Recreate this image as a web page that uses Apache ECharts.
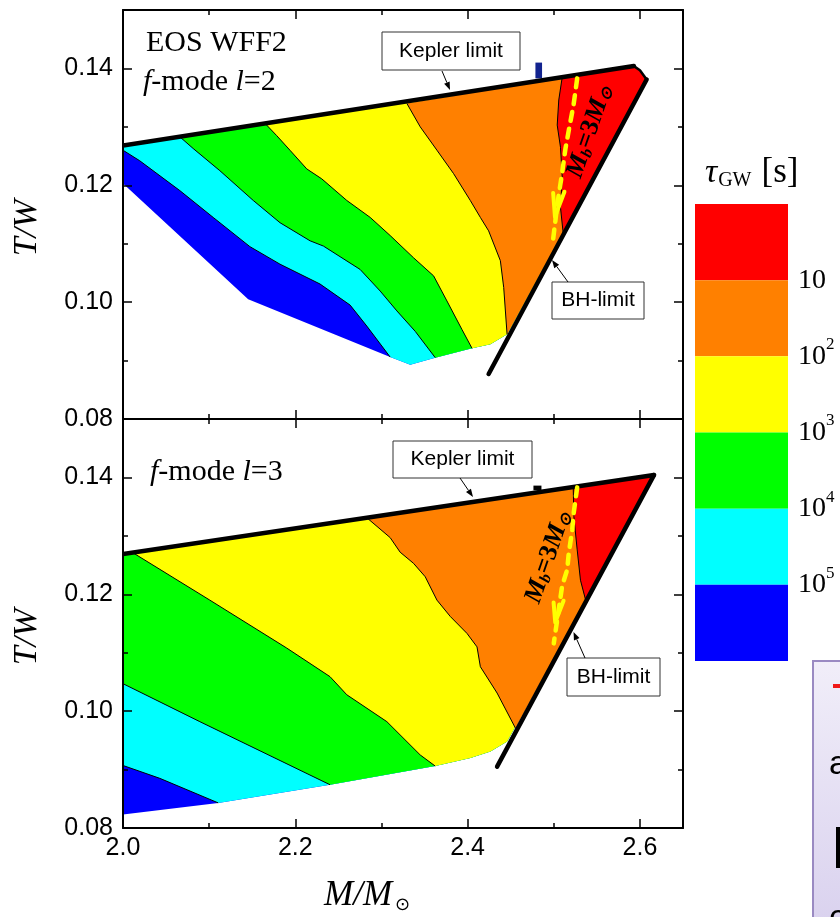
<!DOCTYPE html>
<html>
<head>
<meta charset="utf-8">
<script src="https://cdn.jsdelivr.net/npm/echarts@6/dist/echarts.min.js"></script>
<style>
  html, body { margin: 0; padding: 0; background: #fff; }
  #chart { width: 840px; height: 917px; }
</style>
</head>
<body>
<div id="chart"></div>
<script>
// tau_GW levels, shortest (red) to longest (blue)
const levelColors = ['#ff0000', '#ff8000', '#ffff00', '#00ff00', '#00ffff', '#0000ff'];
const levelExponents = [1, 2, 3, 4, 5];

const xRange = [2.0, 2.65];
const xStep = 0.2;
const yRange = [0.08, 0.15];
const yStep = 0.02;

// ---- f-mode l=2 (upper panel) ----
const keplerL2 = [[2.000, 0.1268], [2.593, 0.1404]];
const cornerL2 = [[2.600, 0.1397]];
const bhL2 = [[2.4244, 0.0877], [2.6078, 0.1381]];
const edgeL2 = [[2.000, 0.1203], [2.1453, 0.1005], [2.3101, 0.0906], [2.3334, 0.0893], [2.3624, 0.0905],
  [2.4051, 0.0921], [2.4264, 0.0928], [2.4458, 0.0945]];
// contour lines 1e5, 1e4, 1e3, 1e2, 10
const contoursL2 = [
  [[2.000, 0.1260], [2.0194, 0.1242], [2.0659, 0.1191], [2.1047, 0.1145], [2.1473, 0.1095], [2.1822, 0.1065],
    [2.2287, 0.1031], [2.2636, 0.0995], [2.2830, 0.0959], [2.3101, 0.0906]],
  [[2.0659, 0.1283], [2.0814, 0.1263], [2.1124, 0.1225], [2.1512, 0.1174], [2.1822, 0.1136], [2.2171, 0.1105],
    [2.2326, 0.1096], [2.2752, 0.1056], [2.2985, 0.1019], [2.3179, 0.0985], [2.3392, 0.0950], [2.3624, 0.0905]],
  [[2.1648, 0.1306], [2.1784, 0.1285], [2.1938, 0.1260], [2.2133, 0.1228], [2.2307, 0.1211], [2.2598, 0.1174],
    [2.2869, 0.1145], [2.3101, 0.1114], [2.3372, 0.1076], [2.3605, 0.1045], [2.3760, 0.1002], [2.3935, 0.0953],
    [2.4051, 0.0921]],
  [[2.3295, 0.1340], [2.3450, 0.1300], [2.3644, 0.1260], [2.3837, 0.1220], [2.4031, 0.1174], [2.4148, 0.1145],
    [2.4244, 0.1122], [2.4380, 0.1071], [2.4419, 0.1025], [2.4458, 0.0945]],
  [[2.5098, 0.1385], [2.5058, 0.1346], [2.5040, 0.1303], [2.5078, 0.1265], [2.5098, 0.1214], [2.5078, 0.1162],
    [2.5110, 0.1117]]
];
const mbDashL2 = [[2.5272, 0.1383], [2.5229, 0.1337], [2.5183, 0.1301], [2.5136, 0.1263], [2.5098, 0.1222],
  [2.5043, 0.1169], [2.4993, 0.1108]];
const mbArrowL2 = [[2.4993, 0.1187], [2.5014, 0.1146], [2.5124, 0.1189]];
const mbLabelL2 = [2.5415, 0.1291];
const strayL2 = [[2.4787, 0.1383], [2.4864, 0.1410]];

// ---- f-mode l=3 (lower panel) ----
const keplerL3 = [[2.000, 0.1269], [2.6163, 0.1404]];
const cornerL3 = [];
const bhL3 = [[2.4342, 0.0905], [2.6163, 0.1404]];
const edgeL3 = [[2.000, 0.0823], [2.1105, 0.0843], [2.2403, 0.0874], [2.3624, 0.0906], [2.4031, 0.0920],
  [2.4264, 0.0931], [2.4458, 0.0948]];
const contoursL3 = [
  [[2.000, 0.0907], [2.0427, 0.0885], [2.1105, 0.0843]],
  [[2.000, 0.1047], [2.0892, 0.0982], [2.2403, 0.0874]],
  [[2.0116, 0.1271], [2.1008, 0.1190], [2.1900, 0.1108], [2.2403, 0.1059], [2.2598, 0.1028], [2.3063, 0.0982],
    [2.3450, 0.0925], [2.3624, 0.0906]],
  [[2.2830, 0.1331], [2.3101, 0.1297], [2.3217, 0.1272], [2.3372, 0.1253], [2.3508, 0.1230], [2.3644, 0.1190],
    [2.3799, 0.1162], [2.3993, 0.1133], [2.4109, 0.1110], [2.4148, 0.1076], [2.4342, 0.1031], [2.4555, 0.0971]],
  [[2.5226, 0.1382], [2.5233, 0.1333], [2.5272, 0.1276], [2.5310, 0.1224], [2.5370, 0.1190]]
];
const mbDashL3 = [[2.5272, 0.1383], [2.5233, 0.1341], [2.5214, 0.1310], [2.5174, 0.1270], [2.5156, 0.1242],
  [2.5098, 0.1215], [2.5000, 0.1116]];
const mbArrowL3 = [[2.4998, 0.1186], [2.5017, 0.1152], [2.5114, 0.1189]];
const mbLabelL3 = [2.4934, 0.1263];
const strayL3 = [[2.4764, 0.1378], [2.4857, 0.1386]];

// painter's regions: whole domain, then the part with tau below each contour level
function buildBands(kep, corner, bh, edge, contours) {
  const out = [[kep[0], kep[1], ...corner, bh[1], ...edge.slice().reverse()]];
  contours.forEach(c => {
    const last = c[c.length - 1];
    const k = edge.findIndex(p => p[0] === last[0] && p[1] === last[1]);
    const tail = k >= 0 ? edge.slice(k + 1) : [];
    const poly = [...c, ...tail, bh[1], ...corner.slice().reverse(), kep[1]];
    if (c[0][0] <= xRange[0]) poly.push(kep[0]);
    out.push(poly);
  });
  return out;
}

function shapeSeries(gi, shapes, z, build) {
  return {
    type: 'custom', xAxisIndex: gi * 4, yAxisIndex: gi * 4, z: z, silent: true, clip: true,
    data: shapes.map(s => s[0]),
    renderItem: (params, api) => build(shapes[params.dataIndex].map(p => api.coord(p)), params.dataIndex)
  };
}

function panelSeries(gi, kep, corner, bh, edge, contours, dash, arrow, label, stray, strayColor) {
  const bands = buildBands(kep, corner, bh, edge, contours);
  const limits = [kep, bh, [kep[1], ...corner, bh[1]]];
  const limitWidths = [4.5, 4.5, 2.5];
  return [
    shapeSeries(gi, bands, 2, (pts, i) => ({
      type: 'polygon', shape: { points: pts }, style: { fill: levelColors[5 - i] }
    })),
    shapeSeries(gi, contours, 3, pts => ({
      type: 'polyline', shape: { points: pts }, style: { stroke: '#000', lineWidth: 1, fill: null }
    })),
    shapeSeries(gi, [stray], 3, pts => ({
      type: 'rect',
      shape: { x: Math.min(pts[0][0], pts[1][0]), y: Math.min(pts[0][1], pts[1][1]),
        width: Math.abs(pts[1][0] - pts[0][0]), height: Math.abs(pts[1][1] - pts[0][1]) },
      style: { fill: strayColor }
    })),
    shapeSeries(gi, limits, 4, (pts, i) => ({
      type: 'polyline', shape: { points: pts },
      style: { stroke: '#000', lineWidth: limitWidths[i], lineCap: 'round', lineJoin: 'round', fill: null }
    })),
    shapeSeries(gi, [dash], 5, pts => ({
      type: 'polyline', shape: { points: pts },
      style: { stroke: '#ffff00', lineWidth: 4.5, lineDash: [9, 8], lineCap: 'round', fill: null }
    })),
    shapeSeries(gi, [arrow], 5, pts => ({
      type: 'polyline', shape: { points: pts },
      style: { stroke: '#ffff00', lineWidth: 4, lineCap: 'round', lineJoin: 'round', fill: null }
    })),
    shapeSeries(gi, [[label]], 6, pts => ({
      type: 'text', x: pts[0][0], y: pts[0][1], rotation: 71 * Math.PI / 180,
      style: {
        text: '{m|M}{s|b}{n|=3}{m|M}{s|\u2299}', align: 'center', verticalAlign: 'middle', fill: '#000',
        rich: {
          m: { fontFamily: 'Liberation Serif', fontStyle: 'italic', fontWeight: 'bold', fontSize: 26, fill: '#000' },
          n: { fontFamily: 'Liberation Serif', fontWeight: 'bold', fontSize: 26, fill: '#000' },
          s: { fontFamily: 'Liberation Serif', fontStyle: 'italic', fontWeight: 'bold', fontSize: 16,
            verticalAlign: 'bottom', fill: '#000' }
        }
      }
    }))
  ];
}

function axisSet(dim, gi, pos, range, step, showLabel, fmt) {
  const base = {
    type: 'value', gridIndex: gi, position: pos, min: range[0], max: range[1], z: 10,
    splitLine: { show: false }
  };
  const major = Object.assign({}, base, {
    interval: step,
    axisLine: { show: true, onZero: false, lineStyle: { color: '#000', width: 2 } },
    axisTick: { show: true, inside: true, length: 9, lineStyle: { color: '#000', width: 1.5 } },
    axisLabel: {
      show: showLabel, margin: dim === 'x' ? 8 : 10, fontSize: 25, fontFamily: 'Liberation Sans',
      color: '#000', showMaxLabel: false, showMinLabel: true, formatter: fmt
    }
  });
  const minor = Object.assign({}, base, {
    interval: step / 2,
    axisLine: { show: false },
    axisTick: { show: true, inside: true, length: 5, lineStyle: { color: '#000', width: 1.5 } },
    axisLabel: { show: false }
  });
  return [major, minor];
}

const fmtX = v => v.toFixed(1);
const fmtY = v => v.toFixed(2);

const xAxes = [
  ...axisSet('x', 0, 'bottom', xRange, xStep, false, fmtX),
  ...axisSet('x', 0, 'top', xRange, xStep, false, fmtX),
  ...axisSet('x', 1, 'bottom', xRange, xStep, true, fmtX),
  ...axisSet('x', 1, 'top', xRange, xStep, false, fmtX),
  { type: 'value', gridIndex: 2, min: 0, max: 1, show: false }
];
const yAxes = [
  ...axisSet('y', 0, 'left', yRange, yStep, true, fmtY),
  ...axisSet('y', 0, 'right', yRange, yStep, false, fmtY),
  ...axisSet('y', 1, 'left', yRange, yStep, true, fmtY),
  ...axisSet('y', 1, 'right', yRange, yStep, false, fmtY),
  {
    type: 'value', gridIndex: 2, min: 0, max: 6, interval: 1, inverse: true, position: 'right',
    axisLine: { show: false }, axisTick: { show: false }, splitLine: { show: false },
    axisLabel: {
      margin: 10,
      formatter: v => levelExponents.includes(v) ? (v === 1 ? '{b|10}' : '{b|10}{p|' + v + '}') : '',
      rich: {
        b: { fontFamily: 'Liberation Serif', fontSize: 28, lineHeight: 40, color: '#000' },
        p: { fontFamily: 'Liberation Serif', fontSize: 17, lineHeight: 17, color: '#000', verticalAlign: 'top' }
      }
    }
  }
];

const colorbarSeries = {
  type: 'custom', xAxisIndex: 8, yAxisIndex: 8, silent: true,
  data: levelColors.map((c, i) => [0, i]),
  renderItem: (params, api) => {
    const i = params.dataIndex;
    const a = api.coord([0, i]);
    const b = api.coord([1, i + 1]);
    return {
      type: 'rect',
      shape: { x: a[0], y: Math.min(a[1], b[1]), width: b[0] - a[0], height: Math.abs(b[1] - a[1]) },
      style: { fill: levelColors[i] }
    };
  }
};

// annotation helpers (pixel layout)
function arrowTo(x1, y1, x2, y2) {
  const a = Math.atan2(y2 - y1, x2 - x1), L = 8, W = 3;
  const bx = x2 - L * Math.cos(a), by = y2 - L * Math.sin(a);
  return [
    { type: 'line', shape: { x1: x1, y1: y1, x2: bx, y2: by }, style: { stroke: '#000', lineWidth: 1 }, z: 30 },
    { type: 'polygon', z: 30, style: { fill: '#000' },
      shape: { points: [[x2, y2], [bx - W * Math.sin(a), by + W * Math.cos(a)], [bx + W * Math.sin(a), by - W * Math.cos(a)]] } }
  ];
}
function labelBox(x, y, w, h, text) {
  return [
    { type: 'rect', z: 30, shape: { x: x, y: y, width: w, height: h }, style: { fill: '#fff', stroke: '#333', lineWidth: 1 } },
    { type: 'text', z: 31, x: x + w / 2, y: y + h / 2,
      style: { text: text, fill: '#000', font: '21px "Liberation Sans"', align: 'center', verticalAlign: 'middle' } }
  ];
}
const serif = '"Liberation Serif"';
const graphics = [
  ...labelBox(382, 32, 138, 38, 'Kepler limit'),
  ...arrowTo(442, 71, 450, 90),
  ...labelBox(552, 282, 92, 37, 'BH-limit'),
  ...arrowTo(568, 282, 552, 260),
  ...labelBox(393, 441, 139, 37, 'Kepler limit'),
  ...arrowTo(460, 478, 473, 497),
  ...labelBox(567, 658, 93, 38, 'BH-limit'),
  ...arrowTo(585, 658, 573.5, 632),
  { type: 'text', z: 30, x: 146, y: 43,
    style: { text: 'EOS WFF2', fill: '#000', font: '30px ' + serif, align: 'left', verticalAlign: 'middle' } },
  { type: 'text', z: 30, x: 143, y: 82,
    style: { text: '{i|f}-mode {i|l}=2', fill: '#000', font: '30px ' + serif, align: 'left', verticalAlign: 'middle',
      rich: { i: { fontStyle: 'italic', fontSize: 30, fontFamily: 'Liberation Serif' } } } },
  { type: 'text', z: 30, x: 150, y: 472,
    style: { text: '{i|f}-mode {i|l}=3', fill: '#000', font: '30px ' + serif, align: 'left', verticalAlign: 'middle',
      rich: { i: { fontStyle: 'italic', fontSize: 30, fontFamily: 'Liberation Serif' } } } },
  { type: 'text', z: 30, x: 27, y: 228, rotation: Math.PI / 2,
    style: { text: 'T/W', fill: '#000', font: 'italic 34px ' + serif, align: 'center', verticalAlign: 'middle' } },
  { type: 'text', z: 30, x: 27, y: 637, rotation: Math.PI / 2,
    style: { text: 'T/W', fill: '#000', font: 'italic 34px ' + serif, align: 'center', verticalAlign: 'middle' } },
  { type: 'text', z: 30, x: 324, y: 896,
    style: { text: '{i|M/M}{s|\u2299}', fill: '#000', align: 'left', verticalAlign: 'middle',
      rich: {
        i: { fontStyle: 'italic', fontSize: 35, fontFamily: 'Liberation Serif', lineHeight: 36 },
        s: { fontSize: 18, fontFamily: 'DejaVu Sans', verticalAlign: 'bottom', lineHeight: 14, padding: [0, 0, 0, 3] }
      } } },
  { type: 'text', z: 30, x: 705, y: 173,
    style: { text: '{t|\u03c4}{s|GW}{t2|[s]}', fill: '#000', align: 'left', verticalAlign: 'middle',
      rich: {
        t: { fontStyle: 'italic', fontSize: 34, fontFamily: 'Liberation Serif' },
        s: { fontSize: 20, fontFamily: 'Liberation Serif', verticalAlign: 'bottom', padding: [0, 0, 0, 1] },
        t2: { fontSize: 35, fontFamily: 'Liberation Serif', padding: [0, 0, 0, 10] }
      } } },
  // edge of a neighbouring slide box
  { type: 'rect', z: 30, shape: { x: 813, y: 661, width: 40, height: 270 },
    style: { stroke: '#9a8ac2', lineWidth: 2,
      fill: { type: 'linear', x: 0, y: 0, x2: 0, y2: 1,
        colorStops: [{ offset: 0, color: '#f1eef9' }, { offset: 1, color: '#d9d1ee' }] } } },
  { type: 'rect', z: 31, shape: { x: 833, y: 684, width: 10, height: 4 }, style: { fill: '#f01818' } },
  { type: 'text', z: 31, x: 829, y: 765,
    style: { text: 'a', fill: '#000', font: '34px "Liberation Sans"', align: 'left', verticalAlign: 'middle' } },
  { type: 'text', z: 31, x: 832, y: 851,
    style: { text: 'I', fill: '#000', font: 'bold 60px "Liberation Sans"', align: 'left', verticalAlign: 'middle' } },
  { type: 'text', z: 31, x: 829, y: 919,
    style: { text: 'c', fill: '#000', font: '34px "Liberation Sans"', align: 'left', verticalAlign: 'middle' } }
];

const chart = echarts.init(document.getElementById('chart'), null, { renderer: 'canvas' });
chart.setOption({
  animation: false,
  backgroundColor: '#fff',
  grid: [
    { left: 123, top: 10, width: 560, height: 409 },
    { left: 123, top: 419, width: 560, height: 409 },
    { left: 695, top: 204, width: 93, height: 457 }
  ],
  xAxis: xAxes,
  yAxis: yAxes,
  series: [
    ...panelSeries(0, keplerL2, cornerL2, bhL2, edgeL2, contoursL2, mbDashL2, mbArrowL2, mbLabelL2, strayL2, '#12238f'),
    ...panelSeries(1, keplerL3, cornerL3, bhL3, edgeL3, contoursL3, mbDashL3, mbArrowL3, mbLabelL3, strayL3, '#000'),
    colorbarSeries
  ],
  graphic: graphics
});
</script>
</body>
</html>
